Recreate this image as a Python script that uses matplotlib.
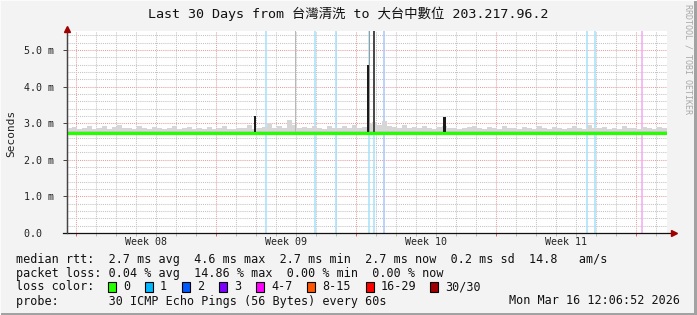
import matplotlib
matplotlib.use("Agg")
import matplotlib.pyplot as plt
from matplotlib.patches import Rectangle
from matplotlib.lines import Line2D

W, H = 697, 315

def fx(x):
    return x / W

def fy(y):
    return 1 - y / H

# ---- data (x = days since start of the 30 day window, values in ms) ----
slots = [i * 0.25 for i in range(120)]

median = [2.74, 2.74, 2.74, 2.74, 2.72, 2.74, 2.74, 2.74, 2.74, 2.74,
          2.74, 2.74, 2.72, 2.74, 2.74, 2.74, 2.74, 2.74, 2.74, 2.72,
          2.74, 2.74, 2.74, 2.74, 2.74, 2.72, 2.74, 2.74, 2.74, 2.74,
          2.74, 2.74, 2.74, 2.74, 2.74, 2.74, 2.74, 2.72, 2.74, 2.74,
          2.74, 2.74, 2.74, 2.74, 2.72, 2.74, 2.74, 2.74, 2.74, 2.74,
          2.74, 2.74, 2.74, 2.74, 2.74, 2.74, 2.74, 2.74, 2.74, 2.74,
          2.74, 2.74, 2.74, 2.74, 2.74, 2.74, 2.74, 2.74, 2.74, 2.72,
          2.74, 2.74, 2.74, 2.74, 2.74, 2.74, 2.74, 2.74, 2.72, 2.74,
          2.74, 2.74, 2.74, 2.74, 2.74, 2.74, 2.74, 2.74, 2.74, 2.74,
          2.74, 2.74, 2.72, 2.74, 2.74, 2.74, 2.74, 2.74, 2.74, 2.74,
          2.74, 2.74, 2.74, 2.74, 2.74, 2.74, 2.74, 2.74, 2.74, 2.74,
          2.74, 2.74, 2.74, 2.72, 2.74, 2.74, 2.74, 2.74, 2.74, 2.74]

smoke_top = [2.86, 2.90, 2.84, 2.88, 2.93, 2.85, 2.87, 2.92, 2.84, 2.89,
             2.95, 2.86, 2.88, 2.84, 2.91, 2.86, 2.85, 2.90, 2.87, 2.84,
             2.88, 2.93, 2.85, 2.86, 2.90, 2.84, 2.87, 2.85, 2.89, 2.84,
             2.86, 2.92, 2.85, 2.84, 2.88, 2.86, 2.96, 2.85, 2.88, 2.90,
             2.98, 2.86, 2.92, 2.88, 3.08, 2.95, 2.87, 2.90, 2.86, 2.92,
             2.88, 2.85, 2.93, 2.87, 2.86, 2.91, 2.88, 2.95, 2.86, 2.90,
             2.98, 3.02, 2.96, 3.05, 2.92, 2.90, 2.88, 2.94, 2.87, 2.89,
             2.86, 2.91, 2.88, 2.85, 2.90, 2.93, 2.86, 2.88, 2.84, 2.87,
             2.89, 2.92, 2.86, 2.84, 2.90, 2.87, 2.85, 2.91, 2.86, 2.88,
             2.85, 2.90, 2.86, 2.84, 2.92, 2.87, 2.85, 2.89, 2.86, 2.84,
             2.88, 2.93, 2.86, 2.85, 2.96, 2.88, 2.86, 2.90, 2.85, 2.87,
             2.84, 2.91, 2.86, 2.88, 2.85, 2.90, 2.86, 2.84, 2.89, 2.87]

# full height loss markers
loss_days = [9.97, 12.38, 13.47, 15.12, 15.35, 15.87, 25.98, 26.38, 28.73]
loss_colors = ['#a6e2fa', '#a6e2fa', '#a6e2fa', '#a6e2fa', '#a6e2fa',
               '#a9c6fb', '#a6e2fa', '#a6e2fa', '#f2a8f2']

# smoke spikes
spike_days = [9.40, 15.07, 18.88, 15.33, 11.43, 15.12]
spike_tops = [3.20, 4.58, 3.18, 5.60, 5.60, 5.60]
spike_colors = ['#1a1a1a', '#1a1a1a', '#1a1a1a', '#4a4a4a', '#b8b8b8', '#9a9a9a']
spike_widths = [0.10, 0.10, 0.12, 0.10, 0.05, 0.05]

week_labels = ['Week 08', 'Week 09', 'Week 10', 'Week 11']
week_start = [0.45, 7.45, 14.45, 21.45, 28.45]

ytick_vals = [0, 1, 2, 3, 4, 5]
ytick_labels = ['0.0  ', '1.0 m', '2.0 m', '3.0 m', '4.0 m', '5.0 m']

loss_names = ['0', '1', '2', '3', '4-7', '8-15', '16-29', '30/30']
loss_palette = ['#26ff00', '#00b8ff', '#0059ff', '#7e00ff', '#ff00ff',
                '#ff5500', '#ff0000', '#a00000']
loss_box_x = [108, 145, 182, 219, 256, 307, 366, 430]

MONO = ['DejaVu Sans Mono', 'Noto Sans CJK TC']

fig = plt.figure(figsize=(W / 100, H / 100), dpi=100, facecolor='#f3f3f3')
ax = fig.add_axes([fx(67), fy(233), 600 / W, 202 / H], facecolor='white')

ax.set_xlim(0, 30)
ax.set_ylim(0, 202 / 36.6)

# loss lines
for d, c in zip(loss_days, loss_colors):
    ax.axvline(d, color=c, lw=1.1, zorder=2)

# smoke
ax.bar(slots, [t - 2.70 for t in smoke_top], bottom=2.70, width=0.25,
       align='edge', color='#d6d6d6', linewidth=0, zorder=3)
ax.bar(slots, [0.06] * len(slots), bottom=median, width=0.25,
       align='edge', color='#c6c6c6', linewidth=0, zorder=3)

# spikes
ax.bar(spike_days, [t - 2.74 for t in spike_tops], bottom=2.74,
       width=spike_widths, color=spike_colors, linewidth=0, zorder=4)

# median line
ax.step(slots + [30], median + [median[-1]], where='post',
        color='#26ff00', lw=2.3, zorder=5, solid_capstyle='butt')

# grid
ax.set_xticks(week_start)
ax.set_xticks([week_start[0] + k for k in range(30)], minor=True)
ax.set_yticks(ytick_vals)
ax.set_yticks([k * 0.2 for k in range(28)], minor=True)
ax.grid(which='minor', color='#c4c4c4', lw=0.75, ls=(0, (1, 1)))
ax.grid(which='major', color='#e4a0a0', lw=0.75, ls=(0, (1, 1)))
ax.set_axisbelow(True)

ax.set_xticklabels([])
ax.set_yticklabels(ytick_labels, family=MONO, fontsize=7.2, color='#222222')
ax.tick_params(axis='y', which='major', length=3, width=0.7, color='#444444', pad=6)
ax.tick_params(axis='y', which='minor', length=0)
ax.tick_params(axis='x', which='major', length=2, width=0.7, color='#e06060')
ax.tick_params(axis='x', which='minor', length=2, width=0.7, color='#bbbbbb')
for lbl in ax.get_yticklabels():
    lbl.set_horizontalalignment('right')

for sp in ['top', 'right', 'bottom']:
    ax.spines[sp].set_visible(False)
ax.spines['left'].set_color('#444444')
ax.spines['left'].set_linewidth(0.9)

for i, lab in enumerate(week_labels):
    ax.text(week_start[i] + 3.5, -0.1, lab, ha='center', va='top',
            family=MONO, fontsize=7.2, color='#222222')

# axes lines and arrows
fig.add_artist(Line2D([fx(63), fx(672)], [fy(233), fy(233)], color='#111111', lw=0.9))
fig.add_artist(Line2D([fx(67), fx(67)], [fy(233), fy(29)], color='#444444', lw=0.9))
fig.add_artist(Line2D([fx(674)], [fy(233)], marker='>', ms=4.5, color='#a00000', lw=0))
fig.add_artist(Line2D([fx(67)], [fy(29)], marker='^', ms=4.5, color='#a00000', lw=0))

# title and labels
fig.text(fx(348), fy(14), 'Last 30 Days from 台灣清洗 to 大台中數位 203.217.96.2',
         ha='center', va='center', family=MONO, fontsize=9.6, color='#111111')
fig.text(fx(11), fy(133), 'Seconds', rotation=90, ha='center', va='center',
         family=MONO, fontsize=8, color='#222222')
fig.text(fx(688), fy(4), 'RRDTOOL / TOBI OETIKER', rotation=270, ha='center',
         va='top', family=MONO, fontsize=6, color='#a8a8a8')

# legend
leg_kw = dict(ha='left', va='center', family=MONO, fontsize=8.5, color='#111111')
fig.text(fx(16), fy(259), 'median rtt:  2.7 ms avg  4.6 ms max  2.7 ms min  '
         '2.7 ms now  0.2 ms sd  14.8   am/s', **leg_kw)
fig.text(fx(16), fy(273), 'packet loss: 0.04 % avg  14.86 % max  0.00 % min  '
         '0.00 % now', **leg_kw)
fig.text(fx(16), fy(287), 'loss color:', **leg_kw)
for bx, name, col in zip(loss_box_x, loss_names, loss_palette):
    fig.add_artist(Rectangle((fx(bx), fy(292)), 8 / W, 10 / H,
                             facecolor=col, edgecolor='black', lw=0.8))
    fig.text(fx(bx + 15), fy(287), name, **leg_kw)
fig.text(fx(16), fy(301), 'probe:       30 ICMP Echo Pings (56 Bytes) every 60s', **leg_kw)
fig.text(fx(680), fy(301), 'Mon Mar 16 12:06:52 2026',
         ha='right', va='center', family=MONO, fontsize=8.5, color='#111111')

# 3d frame
fig.add_artist(Rectangle((0, 0), 1, 2 / H, facecolor='#a2a2a2', lw=0))
fig.add_artist(Rectangle((1 - 3 / W, 0), 3 / W, 1, facecolor='#a2a2a2', lw=0))
fig.add_artist(Rectangle((0, 1 - 1 / H), 1, 1 / H, facecolor='#fbfbfb', lw=0))
fig.add_artist(Rectangle((0, 0), 1 / W, 1, facecolor='#fbfbfb', lw=0))

fig.savefig('out.png', dpi=100, facecolor=fig.get_facecolor())
